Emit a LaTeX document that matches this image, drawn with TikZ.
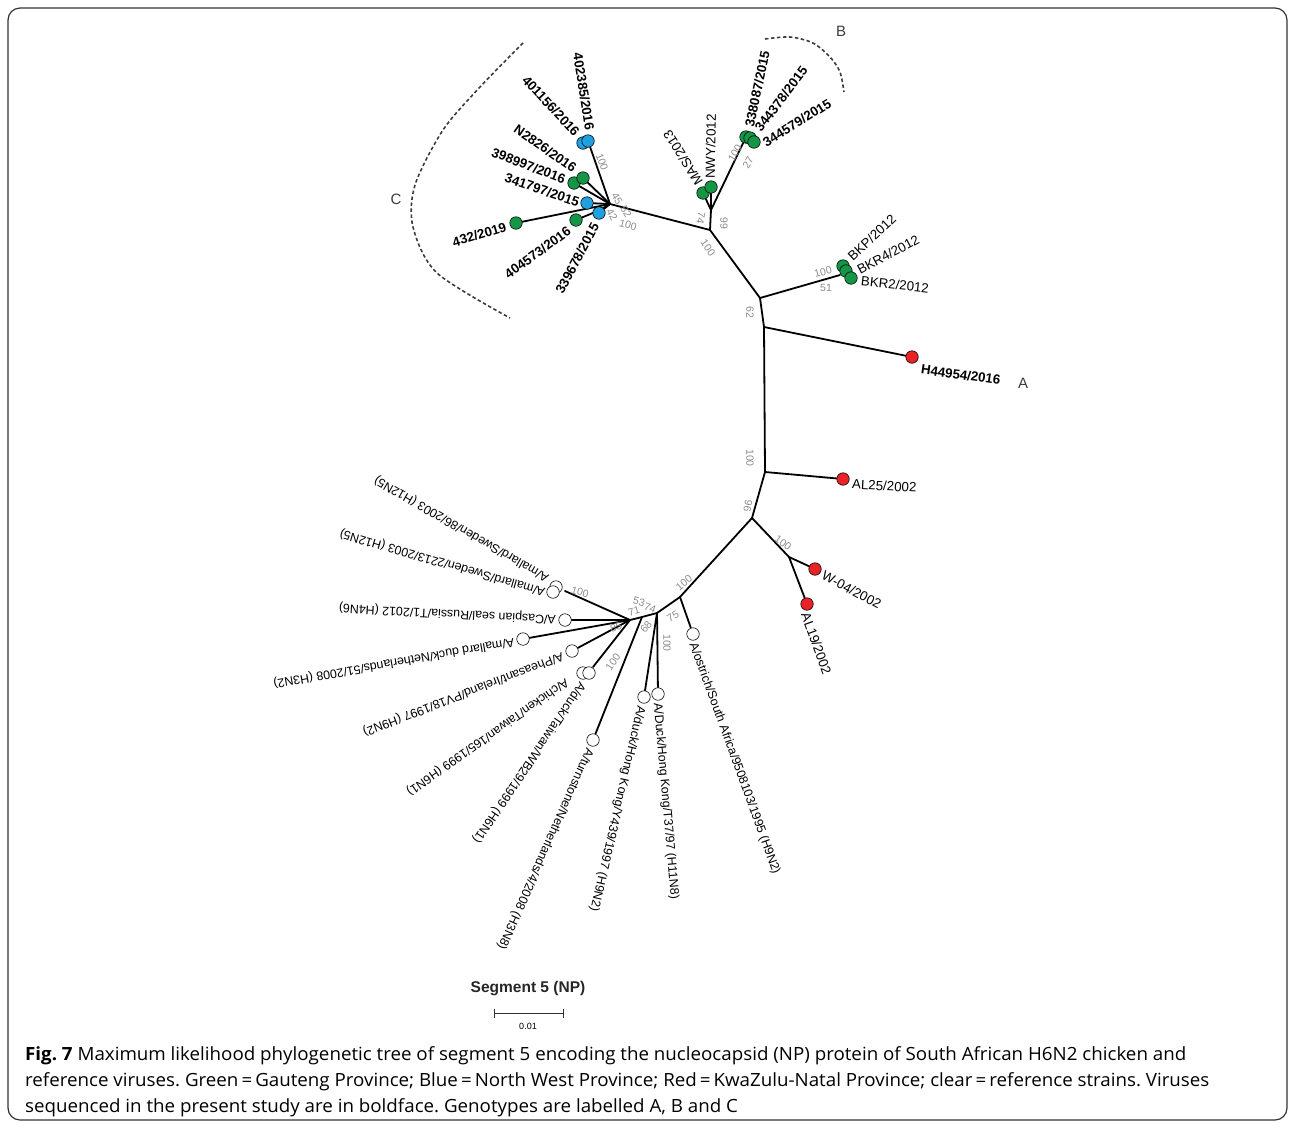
\documentclass[tikz,border=0pt]{standalone}
\usepackage{fontspec}
\setmainfont{Liberation Sans}
\newfontfamily\capfont[FakeStretch=1.03]{Open Sans}
\definecolor{leafgreen}{RGB}{20,150,70}
\definecolor{leafblue}{RGB}{30,160,225}
\definecolor{leafred}{RGB}{232,35,40}
\definecolor{bsgray}{RGB}{140,140,140}
\definecolor{arcgray}{RGB}{60,60,60}
\pgfdeclarelayer{bg}
\pgfsetlayers{bg,main}
\tikzset{
  br/.style={line width=1.8pt, line cap=round},
  leaf/.style={circle, draw=black, line width=0.6pt, minimum size=12.5pt, inner sep=0pt},
  gl/.style={leaf, fill=leafgreen},
  bl/.style={leaf, fill=leafblue},
  rl/.style={leaf, fill=leafred},
  wl/.style={leaf, fill=white},
  bs/.style={text=bsgray, font=\fontsize{10.5}{10.5}\selectfont, inner sep=0pt},
  lab/.style={font=\fontsize{13.3}{13.3}\selectfont, inner sep=1pt},
  blab/.style={font=\bfseries\fontsize{13.3}{13.3}\selectfont, inner sep=1pt},
  rlab/.style={font=\fontsize{12.4}{12.4}\selectfont, inner sep=1pt},
  garc/.style={draw=arcgray, line width=1.6pt, dash pattern=on 3.5pt off 2.5pt},
  capline/.style={font=\capfont\fontsize{18.2}{18.2}\selectfont\frenchspacing, inner sep=0pt, anchor=base west}
}
\begin{document}
\begin{tikzpicture}[x=1pt,y=-1pt]
\useasboundingbox (0,0) rectangle (1295,1128);
\draw[rounded corners=12pt, line width=1.2pt, draw=black!80] (8,8) rectangle (1287,1120);

% internal nodes
\coordinate (n62) at (760,298);
\coordinate (nA) at (764,327);
\coordinate (n100) at (765,472);
\coordinate (n96) at (752,518);
\coordinate (nW) at (789,557);
\coordinate (nX) at (710,230);
\coordinate (nN) at (711,210);
\coordinate (nC) at (610,204);
\coordinate (c2) at (600,210);
\coordinate (nBK) at (840,275);
\coordinate (nR1) at (680,597);
\coordinate (nR2) at (657,613);
\coordinate (nR4) at (642,617);
\coordinate (nR5) at (630,620);
\coordinate (msw) at (565,591);
\coordinate (tw) at (593,667);

% leaves: cluster C
\node[bl] (c401156) at (583,143) {};
\node[bl] (c402385) at (588,141) {};
\node[gl] (c398997) at (574,183) {};
\node[gl] (cN2826) at (583,178) {};
\node[bl] (c341797) at (587,203) {};
\node[gl] (c432) at (516,223) {};
\node[gl] (c404573) at (576,220) {};
\node[bl] (c339678) at (599,213) {};
% cluster B
\node[gl] (b338087) at (746,137) {};
\node[gl] (b344378) at (750,138) {};
\node[gl] (b344579) at (754,142) {};
\node[gl] (lMAS) at (703,193) {};
\node[gl] (lNWY) at (711,187) {};
% BK
\node[gl] (bkp) at (843,266) {};
\node[gl] (bkr4) at (846,271) {};
\node[gl] (bkr2) at (851,278) {};
% red
\node[rl] (h44954) at (912,357) {};
\node[rl] (al25) at (843,479) {};
\node[rl] (w04) at (815,569) {};
\node[rl] (al19) at (807,604) {};
% references
\node[wl] (ostrich) at (693,634) {};
\node[wl] (hky) at (644,697) {};
\node[wl] (hkt) at (658,694) {};
\node[wl] (turn) at (593,740) {};
\node[wl] (chtw) at (583,673) {};
\node[wl] (dktw) at (589,673) {};
\node[wl] (pheas) at (572,651) {};
\node[wl] (mdn) at (523,639) {};
\node[wl] (casp) at (565,620) {};
\node[wl] (ms86) at (556,587) {};
\node[wl] (ms2213) at (553,592) {};

% branches
\begin{pgfonlayer}{bg}
\draw[br] (n62) -- (nA) -- (n100) -- (n96);
\draw[br] (n62) -- (nX) -- (nN);
\draw[br] (nX) -- (nC);
\draw[br] (n62) -- (nBK);
\draw[br] (nA) -- (h44954);
\draw[br] (n100) -- (al25);
\draw[br] (n96) -- (nW);
\draw[br] (nW) -- (w04);
\draw[br] (nW) -- (al19);
\draw[br] (nN) -- (b338087);
\draw[br] (nN) -- (lMAS);
\draw[br] (nN) -- (lNWY);
\draw[br] (nC) -- (c402385);
\draw[br] (nC) -- (cN2826);
\draw[br] (nC) -- (c398997);
\draw[br] (nC) -- (c341797);
\draw[br] (nC) -- (c432);
\draw[br] (nC) -- (c2) -- (c404573);
\draw[br] (nC) -- (c339678);
\draw[br] (n96) -- (nR1) -- (nR2) -- (nR4) -- (nR5);
\draw[br] (nR1) -- (ostrich);
\draw[br] (nR2) -- (hky);
\draw[br] (nR2) -- (hkt);
\draw[br] (nR4) -- (turn);
\draw[br] (nR5) -- (tw);
\draw[br] (nR5) -- (pheas);
\draw[br] (nR5) -- (mdn);
\draw[br] (nR5) -- (casp);
\draw[br] (nR5) -- (msw);
\end{pgfonlayer}

% labels cluster C (bold)
\node[blab, rotate=-81, anchor=east] (t402385) at (590,131) {402385/2016};
\node[blab, rotate=-47, anchor=east] (t401156) at (578,135) {401156/2016};
\node[blab, rotate=-35, anchor=east] (tN2826) at (576,170) {N2826/2016};
\node[blab, rotate=-21, anchor=east] (t398997) at (566,180) {398997/2016};
\node[blab, rotate=-19, anchor=east] (t341797) at (580,203) {341797/2015};
\node[blab, rotate=17, anchor=east] (t432) at (507,226) {432/2019};
\node[blab, rotate=36, anchor=east] (t404573) at (570,229) {404573/2016};
\node[blab, rotate=62, anchor=east] (t339678) at (596,223) {339678/2015};
% cluster B
\node[blab, rotate=78, anchor=west] (t338087) at (749,128) {338087/2015};
\node[blab, rotate=53, anchor=west] (t344378) at (757,131) {344378/2015};
\node[blab, rotate=32, anchor=west] (t344579) at (763,144) {344579/2015};
\node[lab, rotate=122, anchor=west] (tMAS) at (700,185) {MAS/2013};
\node[lab, rotate=89, anchor=west] (tNWY) at (710,180) {NWY/2012};
% BK
\node[lab, rotate=43, anchor=west] (tbkp) at (849,259) {BKP/2012};
\node[lab, rotate=28, anchor=west] (tbkr4) at (857,271) {BKR4/2012};
\node[lab, rotate=-6, anchor=west] (tbkr2) at (860,281) {BKR2/2012};
% red
\node[blab, rotate=-8, anchor=west] (th) at (920,369) {H44954/2016};
\node[lab, rotate=-3, anchor=west] (tal25) at (851,484) {AL25/2002};
\node[lab, rotate=-28, anchor=west] (tw04) at (822,574) {W-04/2002};
\node[lab, rotate=-70, anchor=west] (tal19) at (805,612) {AL19/2002};
% references
\node[rlab, rotate=150, anchor=west] (tms86) at (549,579) {A/mallard/Sweden/86/2003 (H12N5)};
\node[rlab, rotate=164, anchor=west] (tms2213) at (546,592) {A/mallard/Sweden/2213/2003 (H12N5)};
\node[rlab, rotate=177, anchor=west] (tcasp) at (557,619) {A/Caspian seal/Russia/T1/2012 (H4N6)};
\node[rlab, rotate=-170, anchor=west] (tmdn) at (515,641) {A/mallard duck/Netherlands/51/2008 (H3N2)};
\node[rlab, rotate=-159, anchor=west] (tpheas) at (564,655) {A/Pheasant/Ireland/PV18/1997 (H9N2)};
\node[rlab, rotate=-145, anchor=west] (tchtw) at (568,680) {A/chicken/Taiwan/165/1999 (H6N1)};
\node[rlab, rotate=-124, anchor=west] (tdktw) at (583,682) {A/duck/Taiwan/WB29/1999 (H6N1)};
\node[rlab, rotate=-114, anchor=west] (tturn) at (590,748) {A/turnstone/Netherlands/4/2008 (H3N8)};
\node[rlab, rotate=-103, anchor=west] (thky) at (641,705) {A/duck/Hong Kong/Y439/1997 (H9N2)};
\node[rlab, rotate=-85, anchor=west] (thkt) at (657,702) {A/Duck/Hong Kong/T37/97 (H11N8)};
\node[rlab, rotate=-70, anchor=west] (tostrich) at (692,642) {A/ostrich/South Africa/9508103/1995 (H9N2)};

% bootstrap values
\node[bs, rotate=-70] at (602,162) {100};
\node[bs, rotate=-60] at (617,199) {45};
\node[bs, rotate=-60] at (626,212) {52};
\node[bs, rotate=-60] at (612,215) {42};
\node[bs, rotate=-15] at (628,225) {100};
\node[bs, rotate=60] at (735,153) {100};
\node[bs, rotate=60] at (748,163) {27};
\node[bs, rotate=-100] at (701,218) {74};
\node[bs, rotate=-90] at (724,223) {99};
\node[bs, rotate=-55] at (708,248) {100};
\node[bs, rotate=15] at (823,272) {100};
\node[bs] at (826,288) {51};
\node[bs, rotate=-90] at (750,312) {62};
\node[bs, rotate=-90] at (750,458) {100};
\node[bs, rotate=-100] at (748,506) {96};
\node[bs, rotate=-35] at (783,543) {100};
\node[bs, rotate=40] at (684,583) {100};
\node[bs, rotate=30] at (673,616) {75};
\node[bs, rotate=-15] at (639,602) {53};
\node[bs, rotate=15] at (634,611) {71};
\node[bs, rotate=-20] at (650,608) {74};
\node[bs, rotate=15] at (616,627) {85};
\node[bs, rotate=50] at (646,627) {68};
\node[bs, rotate=-15] at (580,592) {100};
\node[bs, rotate=55] at (613,662) {100};
\node[bs, rotate=-90] at (667,643) {100};

% genotype arcs
\draw[garc] plot[smooth] coordinates {(523,43) (480,87) (443,130) (415,185) (413,227) (437,273) (510,318)};
\draw[garc] plot[smooth] coordinates {(765,39) (790,37) (813,43) (830,57) (840,72) (844,92)};
\node[font=\fontsize{15}{15}\selectfont, text=arcgray] (gC) at (396,199) {C};
\node[font=\fontsize{15}{15}\selectfont, text=arcgray] (gB) at (841,31) {B};
\node[font=\fontsize{15}{15}\selectfont, text=arcgray] (gA) at (1023,383) {A};

% scale
\node[font=\bfseries\fontsize{15.5}{15.5}\selectfont, text=black!85] (segt) at (528,989) {Segment 5 (NP)};
\coordinate (sb1) at (494,1013);
\coordinate (sb2) at (563,1013);
\draw[line width=1pt, draw=black!80] (sb1) -- (sb2);
\draw[line width=1pt, draw=black!80] ([yshift=4.5pt]sb1) -- ([yshift=-4.5pt]sb1);
\draw[line width=1pt, draw=black!80] ([yshift=4.5pt]sb2) -- ([yshift=-4.5pt]sb2);
\node[font=\fontsize{9}{9}\selectfont] (sbt) at (528,1026) {0.01};

% caption
\node[capline] (cap1) at (25,1060) {\textbf{Fig. 7} Maximum likelihood phylogenetic tree of segment 5 encoding the nucleocapsid (NP) protein of South African H6N2 chicken and};
\node[capline] (cap2) at (25,1086) {reference viruses. Green\,=\,Gauteng Province; Blue\,=\,North West Province; Red\,=\,KwaZulu-Natal Province; clear\,=\,reference strains. Viruses};
\node[capline] (cap3) at (25,1112) {sequenced in the present study are in boldface. Genotypes are labelled A, B and C};
\end{tikzpicture}
\end{document}
